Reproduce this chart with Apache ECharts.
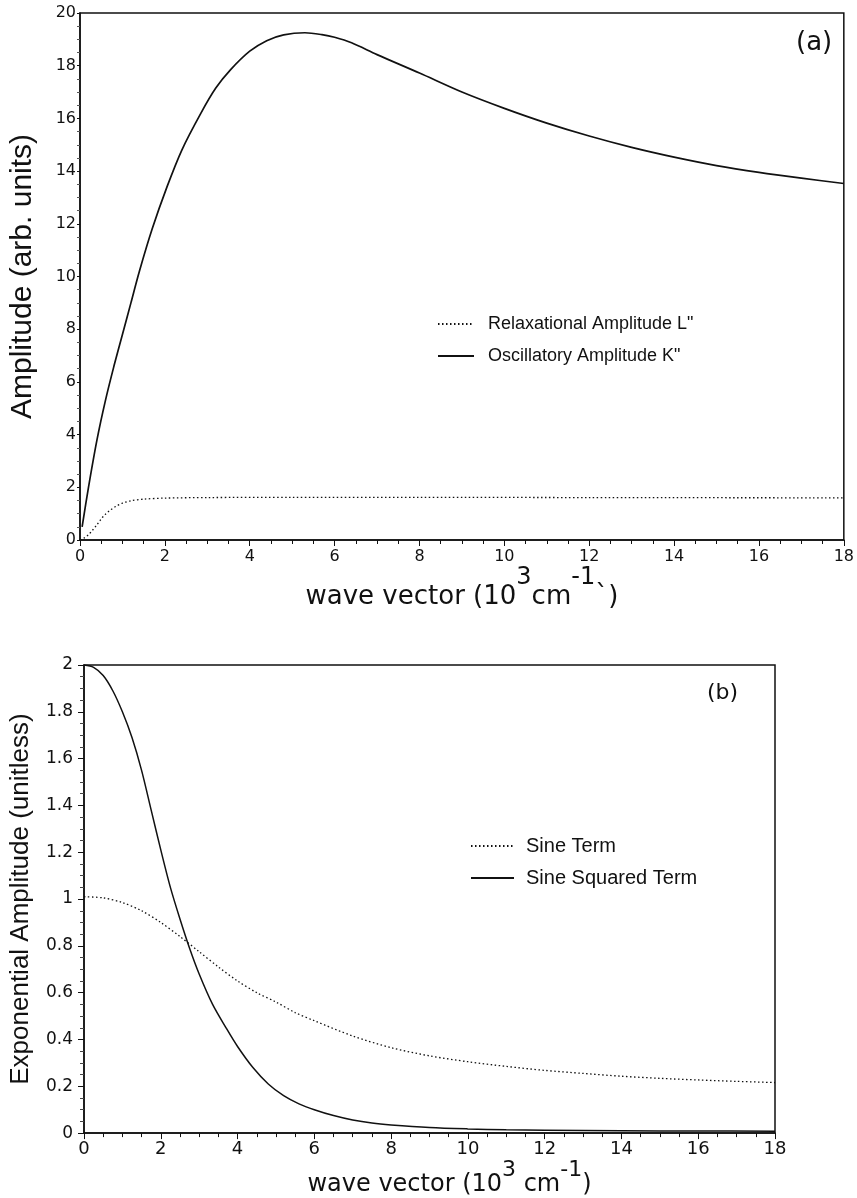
<!DOCTYPE html>
<html>
<head>
<meta charset="utf-8">
<script src="https://cdn.jsdelivr.net/npm/echarts@6/dist/echarts.min.js"></script>
<style>
html,body{margin:0;padding:0;background:#fff;}
#chart{width:857px;height:1198px;}
</style>
</head>
<body>
<div id="chart"></div>
<script>
// ---- Panel (a) data ----
var aXTicks = [0, 2, 4, 6, 8, 10, 12, 14, 16, 18];
var aYTicks = [0, 2, 4, 6, 8, 10, 12, 14, 16, 18, 20];
var relaxX = [0, 0.1, 0.2, 0.3, 0.4, 0.5, 0.6, 0.7, 0.85, 1.0, 1.2, 1.5, 2, 3, 5, 8, 12, 18];
var relaxY = [0, 0.08, 0.2, 0.38, 0.58, 0.8, 0.98, 1.12, 1.28, 1.4, 1.49, 1.55, 1.59, 1.61, 1.62, 1.62, 1.61, 1.6];
var oscX = [0.05, 0.2, 0.4, 0.6, 0.8, 1.0, 1.2, 1.4, 1.7, 2.05, 2.4, 2.85, 3.2, 3.55, 4.0, 4.4, 4.8, 5.3, 5.7, 6.0, 6.4, 7.0, 8, 9, 10, 11, 12, 13, 14, 15, 16, 17, 18];
var oscY = [0.5, 2.0, 3.8, 5.3, 6.6, 7.8, 9.0, 10.2, 11.8, 13.4, 14.8, 16.2, 17.15, 17.85, 18.55, 18.95, 19.17, 19.25, 19.18, 19.08, 18.87, 18.42, 17.72, 17.0, 16.38, 15.82, 15.33, 14.9, 14.53, 14.21, 13.95, 13.73, 13.53];

// ---- Panel (b) data ----
var bYTicks = [0, 0.2, 0.4, 0.6, 0.8, 1, 1.2, 1.4, 1.6, 1.8, 2];
var sineX = [0, 0.5, 1, 1.5, 2, 2.5, 3, 3.5, 4, 4.5, 5, 5.5, 6, 7, 8, 9, 10, 11, 12, 13, 14, 15, 16, 17, 18];
var sineY = [1.01, 1.005, 0.985, 0.95, 0.9, 0.84, 0.775, 0.71, 0.65, 0.6, 0.56, 0.515, 0.48, 0.415, 0.365, 0.33, 0.305, 0.285, 0.268, 0.255, 0.243, 0.234, 0.227, 0.221, 0.216];
var sqX = [0, 0.25, 0.5, 0.75, 1.0, 1.25, 1.5, 1.75, 2.0, 2.25, 2.5, 2.75, 3.0, 3.35, 3.7, 4.0, 4.4, 4.8, 5.2, 5.6, 6.0, 6.5, 7.0, 7.5, 8.0, 9, 10, 11, 12, 14, 16, 18];
var sqY = [2.0, 1.99, 1.955, 1.89, 1.8, 1.69, 1.55, 1.38, 1.21, 1.05, 0.915, 0.79, 0.68, 0.55, 0.45, 0.37, 0.28, 0.21, 0.16, 0.125, 0.1, 0.075, 0.056, 0.043, 0.035, 0.024, 0.018, 0.014, 0.012, 0.01, 0.009, 0.008];

// ---- Labels ----
var aYName = 'Amplitude (arb. units)';
var bYName = 'Exponential Amplitude (unitless)';
var relaxName = 'Relaxational Amplitude L"';
var oscName = 'Oscillatory Amplitude K"';
var sineName = 'Sine Term';
var sqName = 'Sine Squared Term';

function pairs(xs, ys) { return xs.map(function (x, i) { return [x, ys[i]]; }); }

var tickFont = 'DejaVu Sans';
var txtFont = 'Liberation Sans, Arial, sans-serif';
var black = '#111';

function xAxisCfg(gridIndex, labelSize, margin, name, nameGap, nameRich, namePad) {
  return {
    type: 'value', gridIndex: gridIndex, min: 0, max: 18, interval: 2,
    axisLine: { show: true, onZero: false, lineStyle: { color: black, width: 1.5 } },
    axisTick: { show: true, inside: false, length: 6, lineStyle: { color: black, width: 1 } },
    minorTick: { show: true, splitNumber: 4, length: 4, lineStyle: { color: black, width: 1 } },
    splitLine: { show: false },
    axisLabel: { color: black, fontFamily: tickFont, fontSize: labelSize, margin: margin },
    name: name, nameLocation: 'middle', nameGap: nameGap,
    nameTextStyle: { color: black, fontFamily: tickFont, rich: nameRich, padding: namePad }
  };
}

var richA = {
  a: { fontSize: 26, fontFamily: tickFont, color: black, lineHeight: 30, verticalAlign: 'bottom' },
  s: { fontSize: 24, fontFamily: tickFont, color: black, lineHeight: 26, verticalAlign: 'bottom', padding: [0, 0, 20, 0] }
};
var richB = {
  a: { fontSize: 24, fontFamily: tickFont, color: black, lineHeight: 28, verticalAlign: 'bottom' },
  s: { fontSize: 22, fontFamily: tickFont, color: black, lineHeight: 24, verticalAlign: 'bottom', padding: [0, 0, 16, 0] }
};

var lineSmooth = 0.3;

var option = {
  backgroundColor: '#fff',
  animation: false,
  grid: [
    { left: 79, right: 11, top: 13, height: 527, show: true, borderColor: black, borderWidth: 1.5, backgroundColor: 'transparent' },
    { left: 84, right: 82, top: 665, height: 472, show: true, borderColor: black, borderWidth: 1.5, backgroundColor: 'transparent' }
  ],
  xAxis: [
    xAxisCfg(0, 16, 9, '{a|wave vector (10}{s|3}{a|cm}{s|-1}{a|`)}', 22, richA, [0, 0, 0, 0]),
    xAxisCfg(1, 18, 7, '{a|wave vector (10}{s|3}{a| cm}{s|-1}{a|)}', 16, richB, [0, 0, 0, 40])
  ],
  yAxis: [
    {
      type: 'value', gridIndex: 0, min: 0, max: 20, interval: 2,
      axisLine: { show: true, onZero: false, lineStyle: { color: black, width: 1.5 } },
      axisTick: { show: true, inside: false, length: 3, lineStyle: { color: black } },
      minorTick: { show: true, splitNumber: 4, length: 3, lineStyle: { color: '#555' } },
      splitLine: { show: false },
      axisLabel: { color: black, fontFamily: tickFont, fontSize: 16, margin: 4 },
      name: aYName, nameLocation: 'middle', nameGap: 42,
      nameTextStyle: { color: black, fontFamily: txtFont, fontSize: 30 }
    },
    {
      type: 'value', gridIndex: 1, min: 0, max: 2, interval: 0.2,
      axisLine: { show: true, onZero: false, lineStyle: { color: black, width: 1.5 } },
      axisTick: { show: true, inside: false, length: 6, lineStyle: { color: black } },
      minorTick: { show: true, splitNumber: 4, length: 4, lineStyle: { color: '#444' } },
      splitLine: { show: false },
      axisLabel: { color: black, fontFamily: tickFont, fontSize: 17, margin: 11,
        formatter: function (v) { return String(Math.round(v * 10) / 10); } },
      name: bYName, nameLocation: 'middle', nameGap: 50,
      nameTextStyle: { color: black, fontFamily: txtFont, fontSize: 26 }
    }
  ],
  legend: [
    {
      data: [relaxName, oscName], orient: 'vertical', left: 432, top: 309,
      itemWidth: 36, itemHeight: 12, itemGap: 12,
      itemStyle: { opacity: 0 },
      textStyle: { fontFamily: txtFont, fontSize: 18, color: black, lineHeight: 20, padding: [0, 0, 0, 9] },
      selectedMode: false
    },
    {
      data: [sineName, sqName], orient: 'vertical', left: 465, top: 830,
      itemWidth: 43, itemHeight: 12, itemGap: 10,
      itemStyle: { opacity: 0 },
      textStyle: { fontFamily: txtFont, fontSize: 20, color: black, lineHeight: 22, padding: [0, 0, 0, 7] },
      selectedMode: false
    }
  ],
  graphic: [
    { type: 'text', left: 796, top: 30, style: { text: '(a)', fontFamily: tickFont, fontSize: 26, fill: black } },
    { type: 'text', left: 707, top: 682, style: { text: '(b)', fontFamily: tickFont, fontSize: 22, fill: black } }
  ],
  series: [
    {
      name: relaxName, type: 'line', xAxisIndex: 0, yAxisIndex: 0, symbol: 'none', smooth: lineSmooth,
      lineStyle: { color: black, width: 1.3, type: [1.5, 2.5] }, itemStyle: { color: black },
      data: pairs(relaxX, relaxY)
    },
    {
      name: oscName, type: 'line', xAxisIndex: 0, yAxisIndex: 0, symbol: 'none', smooth: lineSmooth,
      lineStyle: { color: black, width: 1.7 }, itemStyle: { color: black },
      data: pairs(oscX, oscY)
    },
    {
      name: sineName, type: 'line', xAxisIndex: 1, yAxisIndex: 1, symbol: 'none', smooth: lineSmooth,
      lineStyle: { color: black, width: 1.3, type: [1.5, 2.5] }, itemStyle: { color: black },
      data: pairs(sineX, sineY)
    },
    {
      name: sqName, type: 'line', xAxisIndex: 1, yAxisIndex: 1, symbol: 'none', smooth: lineSmooth,
      lineStyle: { color: black, width: 1.5 }, itemStyle: { color: black },
      data: pairs(sqX, sqY)
    }
  ]
};

var chart = echarts.init(document.getElementById('chart'), null, { renderer: 'canvas' });
chart.setOption(option);
</script>
</body>
</html>
